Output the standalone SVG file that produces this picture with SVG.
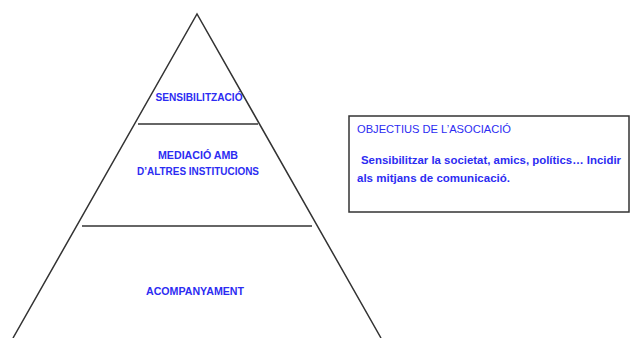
<svg xmlns="http://www.w3.org/2000/svg" width="630" height="338" viewBox="0 0 630 338">
<style>
.ln{stroke:#333;stroke-width:1.5;fill:none}
.t{font-family:"Liberation Sans",Arial,sans-serif;fill:#2c2cf2}
.pl{font-size:10.5px;font-weight:bold;text-anchor:middle}
.bx{font-size:10.5px}
</style>
<rect width="630" height="338" fill="#fff"/>
<g id="pyramid">
<polyline class="ln" points="13,338 197,14 381,338"/>
</g>
<g id="connectors">
<line class="ln" x1="138" y1="124" x2="258" y2="124"/>
<line class="ln" x1="82" y1="226" x2="312" y2="226"/>
</g>
<g id="sensibilitzacio">
<text class="t pl" x="199" y="101" textLength="87" lengthAdjust="spacingAndGlyphs">SENSIBILITZACIÓ</text>
</g>
<g id="mediacio">
<text class="t pl" x="198" y="159" textLength="80" lengthAdjust="spacingAndGlyphs">MEDIACIÓ AMB</text>
<text class="t pl" x="198" y="175" textLength="122" lengthAdjust="spacingAndGlyphs">D’ALTRES INSTITUCIONS</text>
</g>
<g id="acompanyament">
<text class="t pl" x="195" y="295" textLength="98" lengthAdjust="spacingAndGlyphs">ACOMPANYAMENT</text>
</g>
<g id="objectius">
<rect class="ln" x="349" y="116" width="280" height="96"/>
<text class="t bx" x="357" y="133" textLength="154" lengthAdjust="spacingAndGlyphs">OBJECTIUS DE L’ASOCIACIÓ</text>
<text class="t bx" x="361" y="164" textLength="260" lengthAdjust="spacingAndGlyphs" font-weight="bold">Sensibilitzar la societat, amics, polítics… Incidir</text>
<text class="t bx" x="357" y="182" textLength="153" lengthAdjust="spacingAndGlyphs" font-weight="bold">als mitjans de comunicació.</text>
</g>
</svg>
